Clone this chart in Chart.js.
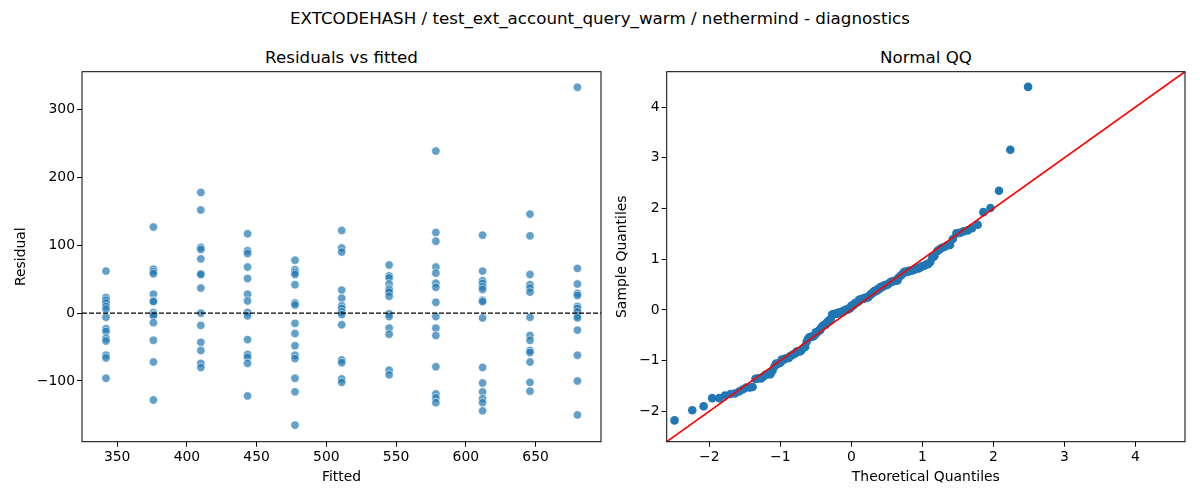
<!DOCTYPE html>
<html>
<head>
<meta charset="utf-8">
<script src="https://cdn.jsdelivr.net/npm/chart.js@4.4.1/dist/chart.umd.min.js"></script>
<style>
body { margin: 0; background: #fff; }
#fig { position: relative; width: 1200px; height: 500px; overflow: hidden; font-family: "DejaVu Sans", sans-serif; }
#fig canvas { position: absolute; top: 0; }
.title { position: absolute; font-size: 16.7px; color: #000; white-space: nowrap; transform: translate(-50%, -50%); }
</style>
</head>
<body>
<div id="fig">
    <div class="title" style="left:600px; top:18px;">EXTCODEHASH / test_ext_account_query_warm / nethermind - diagnostics</div>
    <div class="title" style="left:341.5px; top:57px;">Residuals vs fitted</div>
    <div class="title" style="left:926px; top:57px;">Normal QQ</div>
    <canvas id="residChart" width="610" height="500" style="left:0;"></canvas>
    <canvas id="qqChart" width="590" height="500" style="left:610px;"></canvas>
</div>
<script>
// 残差プロットのデータ
var fittedValues = [342, 376, 410, 443.5, 477.5, 511, 545, 578.5, 612, 646, 680];
var residualsByFitted = [
    [62, 23, 19, 15, 10, 6, -6, -23, -27, -37, -41, -62, -66, -96],
    [127, 65, 61, 58, 28, 18, 17, 1, -2, -4, -14, -40, -72, -128],
    [178, 152, 97, 94, 80, 58, 57, 37, 0, -18, -43, -55, -74, -80],
    [117, 92, 88, 68, 51, 28, 18, 1, -4, -39, -61, -65, -74, -122],
    [78, 64, 60, 57, 42, 15, 12, -15, -30, -48, -62, -67, -96, -116, -165],
    [122, 96, 90, 34, 22, 11, 7, 2, -2, -17, -69, -73, -97, -102],
    [71, 55, 52, 43, 36, 34, 31, 25, -1, -5, -22, -31, -84, -91],
    [239, 119, 106, 68, 59, 44, 38, 16, -5, -22, -33, -79, -119, -125, -132],
    [115, 62, 48, 44, 39, 35, 19, 17, -7, -80, -103, -116, -126, -132, -144],
    [146, 114, 57, 42, 37, 31, -6, -33, -40, -55, -58, -72, -102, -115],
    [333, 66, 43, 29, 26, 10, 7, 2, -4, -7, -25, -62, -100, -150]
];
var residXTicks = [350, 400, 450, 500, 550, 600, 650];
var residYTicks = [-100, 0, 100, 200, 300];
var residXRange = [324.8, 696.9];
var residYRange = [-189.5, 356];

// QQプロットのデータ
var qqTheory = [
    -2.49, -2.24, -2.08, -1.96, -1.86, -1.78, -1.70, -1.64, -1.58, -1.53,
    -1.48, -1.43, -1.39, -1.35, -1.31, -1.27, -1.24, -1.21, -1.17, -1.14,
    -1.11, -1.08, -1.06, -1.03, -1.00, -0.98, -0.95, -0.93, -0.90, -0.88,
    -0.86, -0.83, -0.81, -0.79, -0.77, -0.75, -0.73, -0.71, -0.69, -0.66,
    -0.65, -0.63, -0.61, -0.59, -0.57, -0.55, -0.53, -0.51, -0.50, -0.48,
    -0.46, -0.44, -0.43, -0.41, -0.39, -0.37, -0.36, -0.34, -0.32, -0.31,
    -0.29, -0.27, -0.26, -0.24, -0.23, -0.21, -0.19, -0.18, -0.16, -0.14,
    -0.13, -0.11, -0.10, -0.08, -0.06, -0.05, -0.03, -0.02,
    0.00,
    0.02, 0.03, 0.05, 0.06, 0.08, 0.10, 0.11, 0.13,
    0.14, 0.16, 0.18, 0.19, 0.21, 0.23, 0.24, 0.26, 0.27, 0.29,
    0.31, 0.32, 0.34, 0.36, 0.37, 0.39, 0.41, 0.43, 0.44, 0.46,
    0.48, 0.50, 0.51, 0.53, 0.55, 0.57, 0.59, 0.61, 0.63, 0.65,
    0.66, 0.69, 0.71, 0.73, 0.75, 0.77, 0.79, 0.81, 0.83, 0.86,
    0.88, 0.90, 0.93, 0.95, 0.98, 1.00, 1.03, 1.06, 1.08, 1.11,
    1.14, 1.17, 1.21, 1.24, 1.27, 1.31, 1.35, 1.39, 1.43, 1.48,
    1.53, 1.58, 1.64, 1.70, 1.78, 1.86, 1.96, 2.08, 2.24, 2.49
];
var qqSample = [
    -2.18, -1.98, -1.90, -1.74, -1.74, -1.69, -1.66, -1.65, -1.61, -1.57,
    -1.53, -1.53, -1.52, -1.36, -1.35, -1.35, -1.32, -1.28, -1.27, -1.27,
    -1.20, -1.11, -1.06, -1.06, -1.04, -0.98, -0.98, -0.96, -0.95, -0.95,
    -0.91, -0.89, -0.87, -0.86, -0.82, -0.82, -0.82, -0.81, -0.77, -0.73,
    -0.73, -0.63, -0.57, -0.54, -0.53, -0.53, -0.52, -0.49, -0.44, -0.44,
    -0.41, -0.40, -0.36, -0.33, -0.30, -0.29, -0.29, -0.24, -0.22, -0.20,
    -0.18, -0.09, -0.09, -0.08, -0.08, -0.07, -0.07, -0.05, -0.05, -0.05,
    -0.03, -0.03, -0.01, 0.00, 0.01, 0.01, 0.03, 0.03, 0.08, 0.09,
    0.09, 0.13, 0.13, 0.15, 0.16, 0.20, 0.20, 0.21, 0.22, 0.22,
    0.24, 0.24, 0.25, 0.25, 0.29, 0.30, 0.33, 0.34, 0.37, 0.37,
    0.38, 0.41, 0.41, 0.45, 0.45, 0.46, 0.48, 0.49, 0.49, 0.50,
    0.52, 0.55, 0.55, 0.57, 0.57, 0.58, 0.58, 0.63, 0.67, 0.69,
    0.73, 0.75, 0.75, 0.75, 0.77, 0.77, 0.78, 0.79, 0.81, 0.82,
    0.82, 0.85, 0.86, 0.87, 0.90, 0.90, 0.94, 1.03, 1.06, 1.16,
    1.19, 1.22, 1.24, 1.27, 1.28, 1.40, 1.51, 1.52, 1.55, 1.57,
    1.61, 1.68, 1.93, 2.01, 2.35, 3.16, 4.40
];
var qqTicks = [-2, -1, 0, 1, 2, 3, 4];
var qqRange = [-2.6, 4.7];

Chart.defaults.font.family = '"DejaVu Sans", sans-serif';
Chart.defaults.font.size = 13.9;
Chart.defaults.color = '#000';

// matplotlib風のマイナス記号
function tickLabel(v) {
    return v < 0 ? '\u2212' + Math.abs(v) : String(v);
}

// 目盛りを配列どおりに固定
function fixedTicks(list) {
    return function(scale) {
        var t = [];
        for (var i = 0; i < list.length; i++) t.push({ value: list[i] });
        scale.ticks = t;
    };
}

// 軸の共通設定
function axis(title, range, ticks, titlePad, fitFn) {
    return {
        type: 'linear',
        min: range[0],
        max: range[1],
        afterBuildTicks: fixedTicks(ticks),
        afterFit: fitFn,
        border: { display: false },
        grid: { drawOnChartArea: false, drawTicks: true, tickLength: 5, color: '#000', lineWidth: 1 },
        ticks: { padding: 2, callback: tickLabel, color: '#000' },
        title: { display: true, text: title, color: '#000', padding: titlePad }
    };
}

// 枠線（四辺）
var framePlugin = {
    id: 'frame',
    afterDraw: function(chart) {
        var a = chart.chartArea;
        var ctx = chart.ctx;
        ctx.save();
        ctx.strokeStyle = '#000';
        ctx.lineWidth = 1;
        ctx.strokeRect(a.left, a.top, a.right - a.left, a.bottom - a.top);
        ctx.restore();
    }
};

// y=0 の破線
var zeroLinePlugin = {
    id: 'zeroLine',
    afterDatasetsDraw: function(chart) {
        var a = chart.chartArea;
        var y = chart.scales.y.getPixelForValue(0);
        var ctx = chart.ctx;
        ctx.save();
        ctx.strokeStyle = '#000';
        ctx.lineWidth = 1.2;
        ctx.setLineDash([5, 2]);
        ctx.beginPath();
        ctx.moveTo(a.left, y);
        ctx.lineTo(a.right, y);
        ctx.stroke();
        ctx.restore();
    }
};

// 1. 残差 vs 予測値
function renderResidChart() {
    var points = [];
    for (var i = 0; i < fittedValues.length; i++) {
        var col = residualsByFitted[i];
        for (var j = 0; j < col.length; j++) {
            points.push({ x: fittedValues[i], y: col[j] });
        }
    }

    new Chart(document.getElementById('residChart').getContext('2d'), {
        type: 'scatter',
        data: {
            datasets: [{
                data: points,
                backgroundColor: 'rgba(31,119,180,0.7)',
                borderColor: 'rgba(255,255,255,0.7)',
                borderWidth: 0.8,
                pointRadius: 4.2
            }]
        },
        options: {
            responsive: false,
            animation: false,
            layout: { padding: { left: 0, top: 71.7, right: 9, bottom: 0 } },
            plugins: { legend: { display: false }, tooltip: { enabled: false } },
            scales: {
                x: axis('Fitted', residXRange, residXTicks, { top: 0, bottom: 14.5 },
                    function(s) { s.height = 58.3; }),
                y: axis('Residual', residYRange, residYTicks, { top: 12.7, bottom: 0 },
                    function(s) { s.width = 82; })
            }
        },
        plugins: [framePlugin, zeroLinePlugin]
    });
}

// 2. 正規QQプロット
function renderQQChart() {
    var points = [];
    for (var i = 0; i < qqTheory.length; i++) {
        points.push({ x: qqTheory[i], y: qqSample[i] });
    }

    new Chart(document.getElementById('qqChart').getContext('2d'), {
        type: 'scatter',
        data: {
            datasets: [
                {
                    type: 'line',
                    data: [{ x: qqRange[0], y: qqRange[0] }, { x: qqRange[1], y: qqRange[1] }],
                    borderColor: '#ff0000',
                    borderWidth: 1.6,
                    pointRadius: 0,
                    fill: false,
                    order: 0
                },
                {
                    data: points,
                    backgroundColor: '#1f77b4',
                    borderColor: '#1f77b4',
                    borderWidth: 0,
                    pointRadius: 4.3,
                    order: 1
                }
            ]
        },
        options: {
            responsive: false,
            animation: false,
            layout: { padding: { left: 0, top: 71.7, right: 15, bottom: 0 } },
            plugins: { legend: { display: false }, tooltip: { enabled: false } },
            scales: {
                x: axis('Theoretical Quantiles', qqRange, qqTicks, { top: 0, bottom: 14.5 },
                    function(s) { s.height = 58.3; }),
                y: axis('Sample Quantiles', qqRange, qqTicks, { top: 3.7, bottom: 0 },
                    function(s) { s.width = 56.7; })
            }
        },
        plugins: [framePlugin]
    });
}

renderResidChart();
renderQQChart();
</script>
</body>
</html>
